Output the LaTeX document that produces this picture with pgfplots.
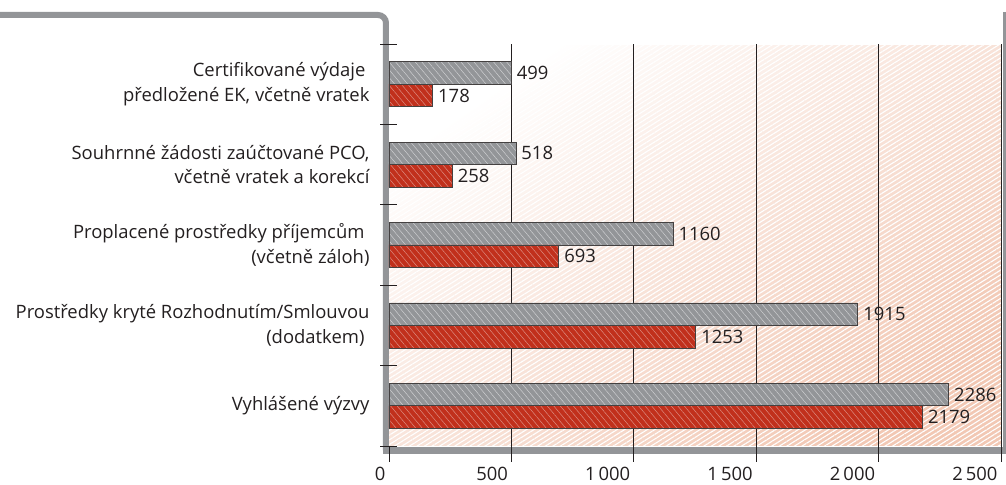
\documentclass[border=0pt]{standalone}
\usepackage{fontspec}
\setmainfont{Open Sans}
\usepackage{pgfplots}
\pgfplotsset{compat=1.18}
\usetikzlibrary{patterns.meta}
\definecolor{framegray}{HTML}{939598}
\definecolor{bargray}{HTML}{939598}
\definecolor{barred}{HTML}{C1301C}
\definecolor{textc}{HTML}{231F20}
\definecolor{salmon}{HTML}{F2C8B4}
\newcommand{\lf}{\fontsize{18.5}{24.5}\selectfont}
\begin{document}
\begin{tikzpicture}[x=1bp,y=1bp]
\path[use as bounding box] (-389,-39) rectangle (617,446);
\shade[top color=white, bottom color=salmon, shading angle=35] (0,0) rectangle (612,400);
\fill[pattern={Lines[angle=32,distance=4bp,line width=1.1bp]}, pattern color=white, fill opacity=0.4] (0,0) rectangle (612,400);
\draw[framegray, line width=6bp, rounded corners=8bp] (-389,431) -- (-3,431) -- (-3,-4.5);
\draw[framegray, line width=7bp] (-6,-4.5) -- (617,-4.5);
\draw[framegray, line width=3bp] (615.5,434) -- (615.5,-4.5);
\begin{axis}[
  width=612bp, height=402bp, scale only axis,
  xmin=0, xmax=2500, ymin=-0.5, ymax=4.5,
  xbar, bar width=22.5bp, clip=false,
  axis line style={draw=none},
  /pgf/number format/1000 sep={},
  /pgf/number format/assume math mode=true,
  xtick={500,1000,...,2500},
  xticklabels={500,1\,000,1\,500,2\,000,2\,500},
  extra x ticks={0}, extra x tick labels={0},
  extra x tick style={grid=none},
  xtick pos=left, ytick pos=left,
  tick align=outside, major tick length=16bp,
  tick style={draw=textc, line width=0.7bp},
  xmajorgrids, grid style={draw=textc, line width=0.7bp},
  ytick={0,1,2,3,4},
  yticklabels={
    {Vyhlášené výzvy},
    {Prostředky kryté Rozhodnutím/Smlouvou\\(dodatkem)\hspace*{5bp}},
    {Proplacené prostředky příjemcům\hspace*{5bp}\\(včetně záloh)},
    {Souhrnné žádosti zaúčtované PCO,\\včetně vratek a korekcí},
    {Certifikované výdaje\hspace*{4bp}\\předložené EK, včetně vratek}},
  ytick style={draw=none},
  extra y ticks={-0.5,0.5,1.5,2.5,3.5,4.5},
  extra y tick labels={},
  extra y tick style={ytick style={draw=textc, line width=0.7bp}, tick align=center, major tick length=17bp},
  yticklabel style={align=right, font=\lf, text=textc},
  xticklabel style={anchor=north east, font=\lf, text=textc, yshift=-1.5bp},
  nodes near coords,
  every node near coord/.append style={font=\lf, text=textc, xshift=2bp},
]
\addplot[fill=bargray, draw=textc!85, line width=0.6bp, bar shift=11.25bp,
  postaction={pattern={Lines[angle=-50,distance=5bp,line width=0.5bp]}, pattern color=white!55!bargray}]
  coordinates {(2286,0) (1915,1) (1160,2) (518,3) (499,4)};
\addplot[fill=barred, draw=textc!85, line width=0.6bp, bar shift=-11.25bp,
  postaction={pattern={Lines[angle=-50,distance=5bp,line width=0.5bp]}, pattern color=white!45!barred}]
  coordinates {(2179,0) (1253,1) (693,2) (258,3) (178,4)};
\end{axis}
\end{tikzpicture}
\end{document}
